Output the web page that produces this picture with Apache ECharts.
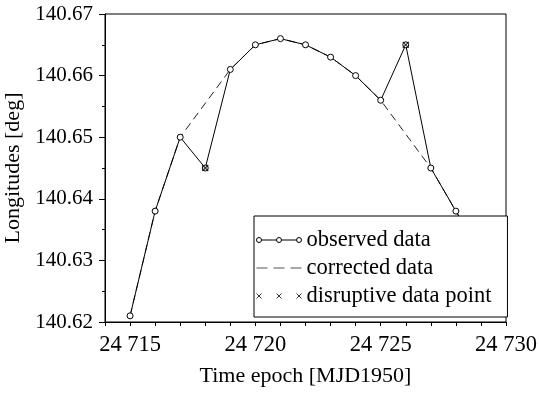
<!DOCTYPE html>
<html>
<head>
<meta charset="utf-8">
<script src="https://cdn.jsdelivr.net/npm/echarts@6/dist/echarts.min.js"></script>
<style>html,body{margin:0;padding:0;background:#fff}#c{width:539px;height:399px}</style>
</head>
<body>
<div id="c"></div>
<script>
// Data
var epochs = [24715, 24716, 24717, 24718, 24719, 24720, 24721, 24722, 24723, 24724, 24725, 24726, 24727, 24728, 24729];
var observed = [140.621, 140.638, 140.650, 140.645, 140.661, 140.665, 140.666, 140.665, 140.663, 140.660, 140.656, 140.665, 140.645, 140.638, 140.631];
var correctedEpochs = [24715, 24716, 24717, 24719, 24720, 24721, 24722, 24723, 24724, 24725, 24727, 24728, 24729];
var corrected = [140.621, 140.638, 140.650, 140.661, 140.665, 140.666, 140.665, 140.663, 140.660, 140.656, 140.645, 140.638, 140.631];
var disruptiveEpochs = [24718, 24726];
var disruptive = [140.645, 140.665];
var xTickLabels = [24715, 24720, 24725, 24730];
var yTickLabels = [140.62, 140.63, 140.64, 140.65, 140.66, 140.67];

function pairs(xs, ys) { return xs.map(function (x, i) { return [x, ys[i]]; }); }

var FONT = "'Liberation Serif', 'Times New Roman', serif";
var chart = echarts.init(document.getElementById('c'), null, { renderer: 'canvas' });

var circleIcon = 'path://M0,2.5 A2.5,2.5 0 1,1 5,2.5 A2.5,2.5 0 1,1 0,2.5 Z M5,2.5 L20,2.5 M20,2.5 A2.5,2.5 0 1,1 25,2.5 A2.5,2.5 0 1,1 20,2.5 Z M25,2.5 L40,2.5 M40,2.5 A2.5,2.5 0 1,1 45,2.5 A2.5,2.5 0 1,1 40,2.5 Z';
var dashIcon = 'path://M0,0 h11 v1.2 h-11 Z M17,0 h11 v1.2 h-11 Z M34,0 h11 v1.2 h-11 Z';
var crossIcon = 'path://M0,0 L5,5 M0,5 L5,0 M20,0 L25,5 M20,5 L25,0 M40,0 L45,5 M40,5 L45,0';
var xMark = 'path://M0,0 L10,10 M0,10 L10,0';

chart.setOption({
  animation: false,
  backgroundColor: '#fff',
  textStyle: { fontFamily: FONT },
  grid: { left: 105, right: 33, top: 14, bottom: 77, show: true, borderColor: '#000', borderWidth: 1,
          backgroundColor: 'transparent', containLabel: false, outerBoundsMode: 'none' },
  xAxis: {
    type: 'value', min: 24714, max: 24730, interval: 1,
    name: 'Time epoch [MJD1950]', nameLocation: 'middle', nameGap: 43,
    nameTextStyle: { fontFamily: FONT, fontSize: 22, color: '#000' },
    axisLine: { lineStyle: { color: '#000', width: 1 } },
    axisTick: { show: true, length: 4, lineStyle: { color: '#000' } },
    splitLine: { show: false },
    axisLabel: {
      fontFamily: FONT, fontSize: 22.5, color: '#000', margin: 12,
      formatter: function (v) {
        if (xTickLabels.indexOf(v) < 0) return '';
        return String(v).replace(/\B(?=(\d{3})+(?!\d))/g, ' ');
      }
    }
  },
  yAxis: {
    type: 'value', min: 140.62, max: 140.67, interval: 0.01,
    name: 'Longitudes [deg]', nameLocation: 'middle', nameGap: 76,
    nameTextStyle: { fontFamily: FONT, fontSize: 22, color: '#000' },
    axisLine: { show: true, lineStyle: { color: '#000', width: 1 } },
    axisTick: { show: true, length: 6, lineStyle: { color: '#000' } },
    minorTick: { show: true, splitNumber: 2, length: 3, lineStyle: { color: '#000' } },
    splitLine: { show: false },
    axisLabel: {
      fontFamily: FONT, fontSize: 21, color: '#000', margin: 12,
      formatter: function (v) {
        for (var i = 0; i < yTickLabels.length; i++) {
          if (Math.abs(yTickLabels[i] - v) < 1e-6) return yTickLabels[i].toFixed(2);
        }
        return '';
      }
    }
  },
  legend: {
    orient: 'vertical', left: 254, top: 216,
    padding: [10, 16, 7, 0], itemGap: 0,
    itemWidth: 45, itemHeight: 6,
    backgroundColor: '#fff', borderColor: '#000', borderWidth: 1, borderRadius: 0,
    textStyle: { fontFamily: FONT, fontSize: 22.5, color: '#000', lineHeight: 28 },
    data: [
      { name: 'observed data', icon: circleIcon, itemStyle: { color: '#fff', borderColor: '#000', borderWidth: 1 } },
      { name: 'corrected data', icon: dashIcon, itemStyle: { color: '#555', borderColor: '#555', borderWidth: 0 } },
      { name: 'disruptive data point', icon: crossIcon, itemStyle: { color: 'none', borderColor: '#000', borderWidth: 1 } }
    ]
  },
  series: [
    {
      name: 'corrected data', type: 'line', data: pairs(correctedEpochs, corrected),
      symbol: 'none', z: 2,
      lineStyle: { color: '#222', width: 1, type: [8, 5] },
      itemStyle: { color: '#555' }
    },
    {
      name: 'observed data', type: 'line', data: pairs(epochs, observed),
      symbol: 'circle', symbolSize: 6, z: 3,
      lineStyle: { color: '#000', width: 1 },
      itemStyle: { color: '#fff', borderColor: '#000', borderWidth: 1 }
    },
    {
      name: 'disruptive data point', type: 'scatter', data: pairs(disruptiveEpochs, disruptive),
      symbol: xMark, symbolSize: 6, z: 4,
      itemStyle: { color: 'none', borderColor: '#000', borderWidth: 1.2 }
    }
  ]
});
</script>
</body>
</html>
